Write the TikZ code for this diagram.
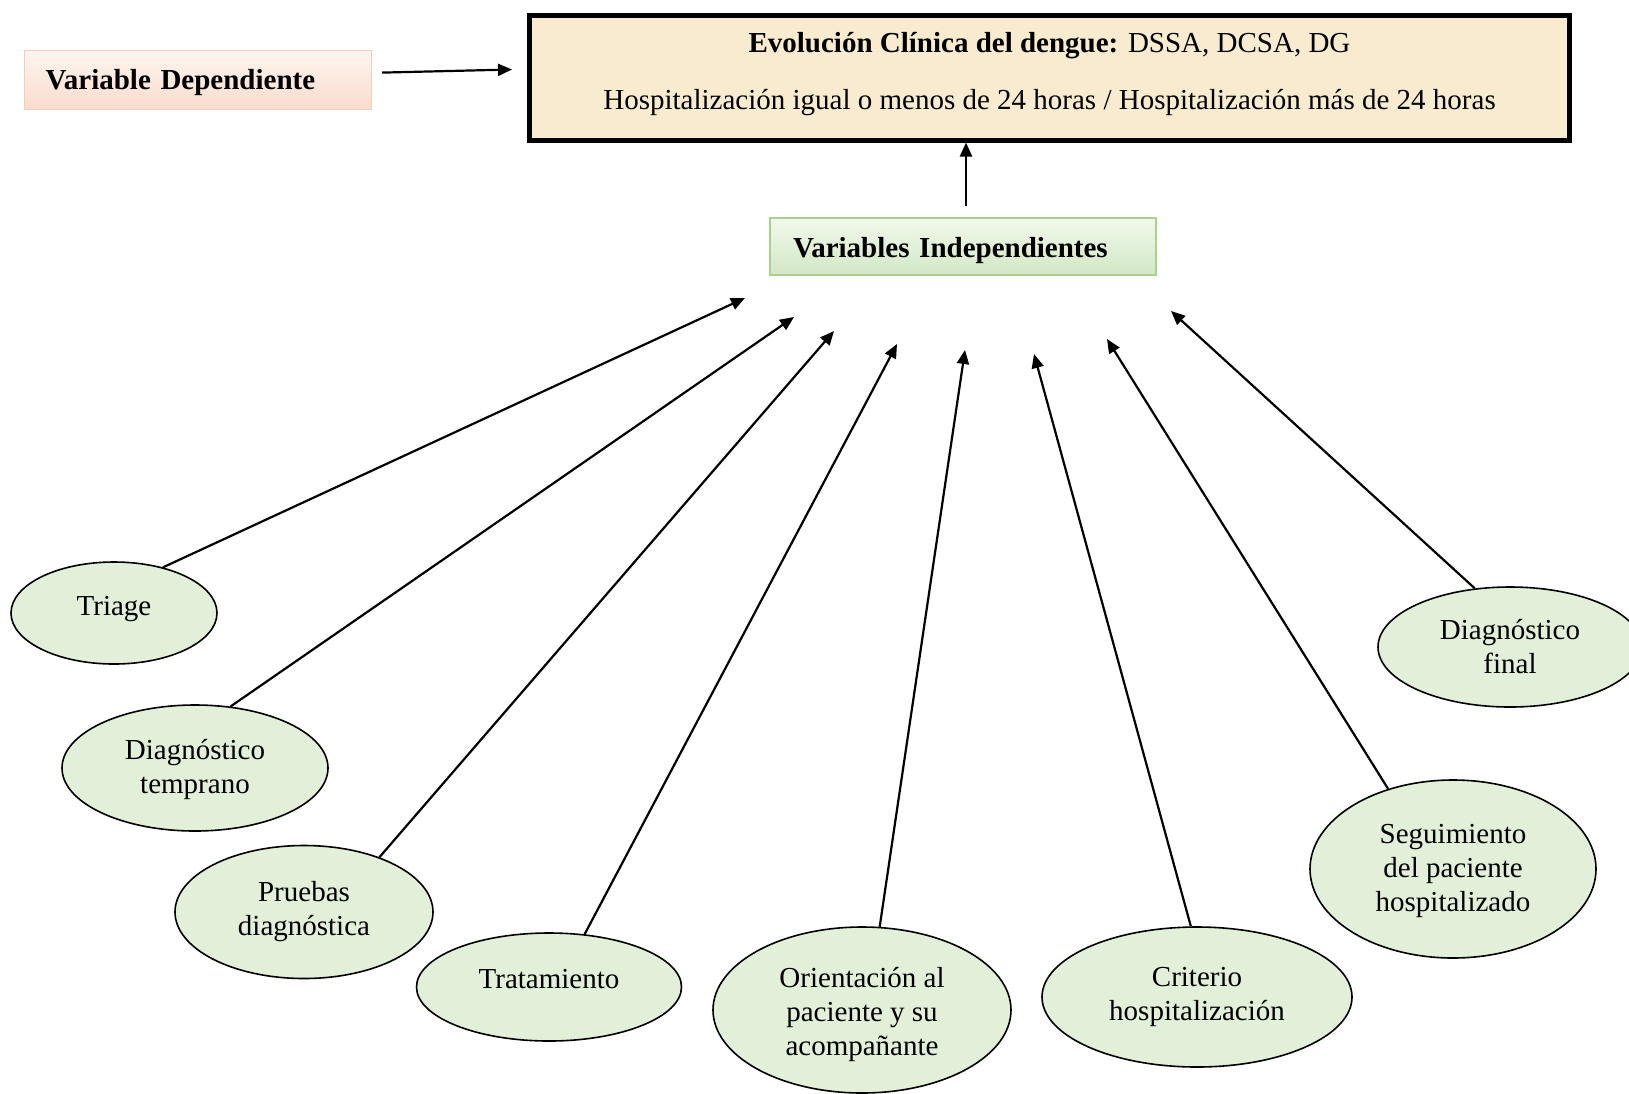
\documentclass[tikz,border=0pt]{standalone}
\usepackage{fontspec}
\setmainfont{Liberation Serif}
\usetikzlibrary{arrows.meta,shapes.geometric,calc}
\definecolor{ellfill}{HTML}{E2EFD9}
\definecolor{parch}{HTML}{F8EBD0}
\definecolor{peachtop}{HTML}{FEF5F0}
\definecolor{peachbot}{HTML}{F9DCCB}
\definecolor{peachline}{HTML}{F6CDB8}
\definecolor{greentop}{HTML}{F1F8EC}
\definecolor{greenbot}{HTML}{D2E8C4}
\definecolor{greenline}{HTML}{A9D18E}
% raise (#1 > 0) content visually inside a centred node by padding its depth
\newcommand{\liftup}[2]{\raisebox{0pt}[\height][\dimexpr\depth+#1\relax]{#2}}
% lower content visually by padding its height
\newcommand{\pushdown}[2]{\raisebox{0pt}[\dimexpr\height+#1\relax][\depth]{#2}}
\newcommand{\stacklines}[1]{\begin{tabular}{@{}c@{}}#1\end{tabular}}
\begin{document}
\begin{tikzpicture}[x=1pt,y=-1pt,
  every node/.style={font=\fontsize{29}{34}\selectfont},
  oval/.style={ellipse, draw=black, line width=1.6pt, fill=ellfill, inner sep=0pt, align=center},
  arr/.style={line width=2.2pt, -{Triangle[length=14pt,width=12pt]}},
  depbox/.style={draw=peachline, line width=1.2pt, top color=peachtop, bottom color=peachbot,
    inner xsep=21pt, inner ysep=0pt, text width=305pt, align=left, minimum height=59pt, anchor=north west},
  indbox/.style={draw=greenline, line width=2pt, top color=greentop, bottom color=greenbot,
    inner xsep=23pt, inner ysep=0pt, text width=340pt, align=left, minimum height=57pt, anchor=north west},
  mainbox/.style={draw=black, line width=5pt, fill=parch, minimum width=1040pt, minimum height=125pt,
    inner sep=0pt, align=center, anchor=north west}
]
\useasboundingbox (0,0) rectangle (1629,1093);
\fill[white] (0,0) rectangle (1629,1093);

% top boxes
\node[depbox] (vardep) at (24,50) {\pushdown{4pt}{\textbf{Variable Dependiente}}};
\node[mainbox] (main) at (527,12.5) {\liftup{6pt}{\stacklines{\textbf{Evolución Clínica del dengue:} DSSA, DCSA, DG\\[23pt]
  Hospitalización igual o menos de 24 horas / Hospitalización más de 24 horas}}};
\node[indbox] (varind) at (769,217) {\pushdown{8pt}{\textbf{Variables Independientes}}};

\draw[arr] ($(vardep.east)+(10,-7.5)$) -- ($(main.west)+(-15,-8)$);
\coordinate (vitop) at ($(varind.north)+(3,-11)$);
\draw[arr] (vitop) -- (vitop |- main.south);

% ellipses
\node[oval, minimum width=206pt, minimum height=102pt] (e1) at (114,613) {\liftup{8pt}{Triage}};
\node[oval, minimum width=266pt, minimum height=126pt] (e2) at (195,768) {\pushdown{3pt}{\stacklines{Diagnóstico\\temprano}}};
\node[oval, minimum width=258pt, minimum height=133pt] (e3) at (304,912) {Pruebas\\diagnóstica};
\node[oval, minimum width=265pt, minimum height=108pt] (e4) at (549,987) {\liftup{16pt}{Tratamiento}};
\node[oval, minimum width=298pt, minimum height=166pt] (e5) at (862,1010) {\pushdown{10pt}{\stacklines{Orientación al\\paciente y su\\acompañante}}};
\node[oval, minimum width=310pt, minimum height=140pt] (e6) at (1197,997) {Criterio\\hospitalización};
\node[oval, minimum width=286pt, minimum height=178pt] (e7) at (1453,869) {\pushdown{4pt}{\stacklines{Seguimiento\\del paciente\\hospitalizado}}};
\node[oval, minimum width=264pt, minimum height=120pt] (e8) at (1510,647) {\pushdown{6pt}{\stacklines{Diagnóstico\\final}}};

% arrow tips
\coordinate (p1) at (745,298);
\coordinate (p2) at (794,317);
\coordinate (p3) at (834,331);
\coordinate (p4) at (897,344);
\coordinate (p5) at (965,350);
\coordinate (p6) at (1034,354);
\coordinate (p7) at (1107,339);
\coordinate (p8) at (1171,311);

\draw[arr] (e1.43) -- (p1);
\draw[arr] (e2.60) -- (p2);
\draw[arr] (e3.36) -- (p3);
\draw[arr] (e4.56) -- (p4);
\draw[arr] (e5.78) -- (p5);
\draw[arr] (e6.95) -- (p6);
\draw[arr] (e7.129) -- (p7);
\draw[arr] (e8.121) -- (p8);
\end{tikzpicture}
\end{document}
